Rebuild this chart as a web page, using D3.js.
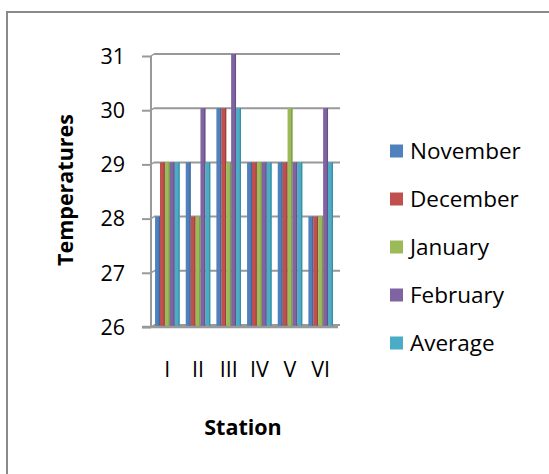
<!DOCTYPE html>
<html><head><meta charset="utf-8">
<script src="https://cdn.jsdelivr.net/npm/d3@7"></script>
<style>body{margin:0;background:#fff}svg{display:block}text{font-family:"Open Sans",Lato,sans-serif;fill:#000}</style>
</head><body><svg id="c" width="549" height="474"></svg>
<script>
const stations = ["I","II","III","IV","V","VI"];
const seriesNames = ["November","December","January","February","Average"];
const colors = ["#4F81BD","#C0504D","#9BBB59","#8064A2","#4BACC6"];
const november = [28,29,30,29,29,28];
const december = [29,28,30,29,29,28];
const january  = [29,28,29,29,30,28];
const february = [29,30,31,29,29,30];
const average  = [29,29,30,29,29,29];
const yTicks = [26,27,28,29,30,31];
const seriesValues = [november,december,january,february,average];

const svg = d3.select("#c");
// outer frame
svg.append("rect").attr("x",7).attr("y",12).attr("width",560).attr("height",480)
  .attr("fill","none").attr("stroke","#8a8a8a").attr("stroke-width",2);

const y = d3.scaleLinear().domain([26,31]).range([325,54]);
const x0 = d3.scaleBand().domain(stations).range([152,336]).paddingInner(0.2).paddingOuter(0.1);
const x1 = d3.scaleBand().domain(seriesNames).range([0,x0.bandwidth()]);

// gridlines (back wall, offset for depth)
const g = svg.append("g");
yTicks.forEach(t=>{
  const yy = y(t);
  g.append("line").attr("x1",154).attr("x2",340).attr("y1",yy).attr("y2",yy)
    .attr("stroke","#999").attr("stroke-width",2);
  g.append("line").attr("x1",151).attr("x2",154).attr("y1",yy+2).attr("y2",yy)
    .attr("stroke","#999").attr("stroke-width",1.5);
});
// vertical axis line
g.append("line").attr("x1",151).attr("x2",151).attr("y1",y(31)+2).attr("y2",y(26)+2)
  .attr("stroke","#999").attr("stroke-width",2);
// axis with ticks & labels
const axis = d3.axisLeft(y).tickValues(yTicks).tickSize(9).tickPadding(17).tickFormat(d3.format("d"));
const ag = svg.append("g").attr("transform","translate(151,2)").call(axis);
ag.select(".domain").remove();
ag.selectAll(".tick line").attr("stroke","#999").attr("stroke-width",2);
ag.selectAll(".tick text").attr("font-size",21.5).attr("fill","#000").attr("dy","0.34em")
  .style("font-family",'"Open Sans",Lato,sans-serif');

// bars
const bars = svg.append("g");
stations.forEach((s,i)=>{
  seriesNames.forEach((n,j)=>{
    const v = seriesValues[j][i];
    const bx = x0(s)+x1(n), bw = x1.bandwidth();
    bars.append("rect").attr("x",bx).attr("y",y(v)).attr("width",bw).attr("height",y(26)-y(v)+1)
      .attr("fill",colors[j]);
    bars.append("rect").attr("x",bx+bw-1.2).attr("y",y(v)).attr("width",1.2).attr("height",y(26)-y(v)+1)
      .attr("fill",d3.color(colors[j]).darker(0.6));
  });
});
// floor
svg.append("line").attr("x1",142).attr("x2",338).attr("y1",y(26)+2).attr("y2",y(26)+2)
  .attr("stroke","#999").attr("stroke-width",2.5);

// x axis labels
const xa = d3.axisBottom(x0).tickSize(0).tickPadding(0);
const xg = svg.append("g").attr("transform","translate(0,370)").call(xa);
xg.select(".domain").remove();
xg.selectAll(".tick text").attr("font-size",21.5).attr("dy","0.34em").attr("y",0)
  .style("font-family",'"Open Sans",Lato,sans-serif');

// axis titles
svg.append("text").attr("x",243).attr("y",427).attr("dy","0.35em").attr("text-anchor","middle")
  .attr("font-size",21.5).attr("font-weight","bold").text("Station");
svg.append("text").attr("transform","translate(65,190) rotate(-90)").attr("dy","0.35em")
  .attr("text-anchor","middle").attr("font-size",21.5).attr("font-weight","bold").text("Temperatures");

// legend
const leg = svg.append("g");
seriesNames.forEach((n,j)=>{
  const cy = 151 + j*48;
  leg.append("rect").attr("x",390).attr("y",cy-6.5).attr("width",13).attr("height",13).attr("fill",colors[j]);
  leg.append("text").attr("x",410).attr("y",cy).attr("dy","0.35em").attr("font-size",22.5).text(n);
});
</script></body></html>
